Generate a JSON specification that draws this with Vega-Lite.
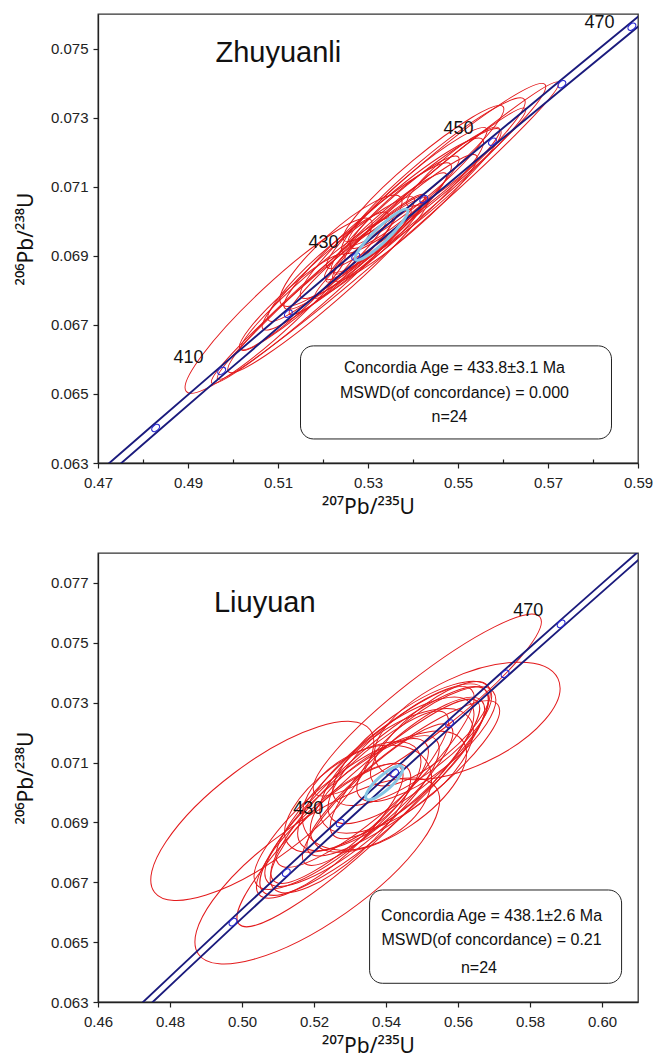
{
  "$schema": "https://vega.github.io/schema/vega-lite/v6.json",
  "padding": {"left": 14, "top": 13, "right": 0, "bottom": 0},
  "background": "white",
  "config": {
    "font": "Liberation Sans",
    "view": {"stroke": "#333333", "strokeWidth": 1.3},
    "axis": {"grid": false, "domainColor": "#222222", "domainWidth": 1.3, "tickColor": "#222222", "tickWidth": 1.2,
      "labelFont": "Liberation Sans", "labelFontSize": 15, "labelColor": "#222222",
      "titleFont": "Noto Sans", "titleFontSize": 21, "titleFontWeight": "normal", "titleColor": "#111111",
      "labelFlush": false, "labelOverlap": false},
    "axisX": {"labelPadding": 7, "titlePadding": 6},
    "axisY": {"labelPadding": 5, "titlePadding": 14}
  },
  "datasets": {
    "conc": [
      {"age": 370, "x": 0.439643, "y": 0.059075, "xl": 0.438303, "xr": 0.440983},
      {"age": 380, "x": 0.453891, "y": 0.060719, "xl": 0.452551, "xr": 0.455231},
      {"age": 390, "x": 0.468279, "y": 0.062366, "xl": 0.466939, "xr": 0.469619},
      {"age": 400, "x": 0.482812, "y": 0.064016, "xl": 0.481472, "xr": 0.484152},
      {"age": 410, "x": 0.497487, "y": 0.065667, "xl": 0.496147, "xr": 0.498827},
      {"age": 420, "x": 0.512308, "y": 0.067322, "xl": 0.510968, "xr": 0.513648},
      {"age": 430, "x": 0.527275, "y": 0.068979, "xl": 0.525935, "xr": 0.528615},
      {"age": 440, "x": 0.542392, "y": 0.070638, "xl": 0.541052, "xr": 0.543732},
      {"age": 450, "x": 0.557656, "y": 0.072300, "xl": 0.556316, "xr": 0.558996},
      {"age": 460, "x": 0.573073, "y": 0.073965, "xl": 0.571733, "xr": 0.574413},
      {"age": 470, "x": 0.588643, "y": 0.075632, "xl": 0.587303, "xr": 0.589983},
      {"age": 480, "x": 0.604366, "y": 0.077302, "xl": 0.603026, "xr": 0.605706},
      {"age": 490, "x": 0.620245, "y": 0.078975, "xl": 0.618905, "xr": 0.621585},
      {"age": 500, "x": 0.636280, "y": 0.080650, "xl": 0.634940, "xr": 0.637620}
    ],
    "ellTop": [
      {"x": 0.51013, "y": 0.067554, "r": 0.0280, "asp": "0.18", "tilt": 43, "kind": "sample"},
      {"x": 0.53445, "y": 0.069726, "r": 0.0502, "asp": "0.07", "tilt": 41, "kind": "sample"},
      {"x": 0.54514, "y": 0.071311, "r": 0.0316, "asp": "0.13", "tilt": 40, "kind": "sample"},
      {"x": 0.54451, "y": 0.071319, "r": 0.0264, "asp": "0.16", "tilt": 40, "kind": "sample"},
      {"x": 0.54233, "y": 0.071383, "r": 0.0231, "asp": "0.16", "tilt": 40, "kind": "sample"},
      {"x": 0.54287, "y": 0.070760, "r": 0.0293, "asp": "0.1", "tilt": 41, "kind": "sample"},
      {"x": 0.54893, "y": 0.071577, "r": 0.0133, "asp": "0.2", "tilt": 40, "kind": "sample"},
      {"x": 0.52398, "y": 0.069145, "r": 0.0178, "asp": "0.25", "tilt": 42, "kind": "sample"},
      {"x": 0.51740, "y": 0.067821, "r": 0.0293, "asp": "0.1", "tilt": 41, "kind": "sample"},
      {"x": 0.52109, "y": 0.068148, "r": 0.0293, "asp": "0.13", "tilt": 41, "kind": "sample"},
      {"x": 0.51858, "y": 0.068180, "r": 0.0222, "asp": "0.13", "tilt": 41, "kind": "sample"},
      {"x": 0.52340, "y": 0.068780, "r": 0.0222, "asp": "0.16", "tilt": 41, "kind": "sample"},
      {"x": 0.52767, "y": 0.069021, "r": 0.0200, "asp": "0.13", "tilt": 41, "kind": "sample"},
      {"x": 0.52993, "y": 0.069570, "r": 0.0244, "asp": "0.16", "tilt": 41, "kind": "sample"},
      {"x": 0.53391, "y": 0.069855, "r": 0.0178, "asp": "0.16", "tilt": 41, "kind": "sample"},
      {"x": 0.53531, "y": 0.070087, "r": 0.0267, "asp": "0.16", "tilt": 41, "kind": "sample"},
      {"x": 0.53818, "y": 0.070096, "r": 0.0211, "asp": "0.16", "tilt": 41, "kind": "sample"},
      {"x": 0.53816, "y": 0.070548, "r": 0.0156, "asp": "0.18", "tilt": 40, "kind": "sample"},
      {"x": 0.52996, "y": 0.069116, "r": 0.0156, "asp": "0.13", "tilt": 41, "kind": "sample"},
      {"x": 0.54071, "y": 0.070603, "r": 0.0244, "asp": "0.16", "tilt": 40, "kind": "sample"},
      {"x": 0.52113, "y": 0.068684, "r": 0.0178, "asp": "0.18", "tilt": 42, "kind": "sample"},
      {"x": 0.53249, "y": 0.069623, "r": 0.0133, "asp": "0.16", "tilt": 41, "kind": "sample"},
      {"x": 0.54100, "y": 0.071009, "r": 0.0200, "asp": "0.16", "tilt": 40, "kind": "sample"},
      {"x": 0.51318, "y": 0.067664, "r": 0.0156, "asp": "0.18", "tilt": 42, "kind": "sample"},
      {"x": 0.53300, "y": 0.069609, "r": 0.0080, "asp": "0.2", "tilt": 44, "kind": "mean"}
    ],
    "ellBot": [
      {"x": 0.50564, "y": 0.069382, "r": 0.0375, "asp": "0.35", "tilt": 37, "kind": "sample"},
      {"x": 0.52092, "y": 0.067377, "r": 0.0403, "asp": "0.35", "tilt": 35, "kind": "sample"},
      {"x": 0.56258, "y": 0.072389, "r": 0.0278, "asp": "0.45", "tilt": 25, "kind": "sample"},
      {"x": 0.55147, "y": 0.072923, "r": 0.0397, "asp": "0.2", "tilt": 38, "kind": "sample"},
      {"x": 0.53231, "y": 0.069315, "r": 0.0453, "asp": "0.2", "tilt": 43, "kind": "sample"},
      {"x": 0.53675, "y": 0.070050, "r": 0.0417, "asp": "0.25", "tilt": 42, "kind": "sample"},
      {"x": 0.53469, "y": 0.069826, "r": 0.0194, "asp": "0.65", "tilt": 30, "kind": "sample"},
      {"x": 0.53995, "y": 0.070621, "r": 0.0306, "asp": "0.35", "tilt": 40, "kind": "sample"},
      {"x": 0.54594, "y": 0.070820, "r": 0.0278, "asp": "0.3", "tilt": 42, "kind": "sample"},
      {"x": 0.53056, "y": 0.069379, "r": 0.0306, "asp": "0.3", "tilt": 40, "kind": "sample"},
      {"x": 0.52736, "y": 0.068808, "r": 0.0250, "asp": "0.35", "tilt": 42, "kind": "sample"},
      {"x": 0.53696, "y": 0.070522, "r": 0.0361, "asp": "0.25", "tilt": 42, "kind": "sample"},
      {"x": 0.54294, "y": 0.070721, "r": 0.0250, "asp": "0.45", "tilt": 36, "kind": "sample"},
      {"x": 0.54614, "y": 0.071292, "r": 0.0278, "asp": "0.35", "tilt": 40, "kind": "sample"},
      {"x": 0.55120, "y": 0.071615, "r": 0.0236, "asp": "0.35", "tilt": 38, "kind": "sample"},
      {"x": 0.52756, "y": 0.069280, "r": 0.0306, "asp": "0.3", "tilt": 40, "kind": "sample"},
      {"x": 0.53768, "y": 0.069926, "r": 0.0278, "asp": "0.25", "tilt": 43, "kind": "sample"},
      {"x": 0.53076, "y": 0.069851, "r": 0.0222, "asp": "0.45", "tilt": 36, "kind": "sample"},
      {"x": 0.54480, "y": 0.070472, "r": 0.0333, "asp": "0.25", "tilt": 38, "kind": "sample"},
      {"x": 0.55233, "y": 0.071962, "r": 0.0208, "asp": "0.35", "tilt": 40, "kind": "sample"},
      {"x": 0.52437, "y": 0.068709, "r": 0.0264, "asp": "0.3", "tilt": 42, "kind": "sample"},
      {"x": 0.54067, "y": 0.070025, "r": 0.0250, "asp": "0.45", "tilt": 34, "kind": "sample"},
      {"x": 0.54728, "y": 0.071639, "r": 0.0264, "asp": "0.35", "tilt": 36, "kind": "sample"},
      {"x": 0.53272, "y": 0.069839, "r": 0.0333, "asp": "0.25", "tilt": 44, "kind": "sample"},
      {"x": 0.53951, "y": 0.070322, "r": 0.0067, "asp": "0.3", "tilt": 42, "kind": "mean"}
    ],
    "textTop": [
      {"x": 0.49011, "y": 0.066043, "label": "410", "kind": "age"},
      {"x": 0.52011, "y": 0.069377, "label": "430", "kind": "age"},
      {"x": 0.55011, "y": 0.072681, "label": "450", "kind": "age"},
      {"x": 0.58144, "y": 0.075725, "label": "470", "kind": "age"},
      {"x": 0.54922, "y": 0.065754, "label": "Concordia  Age = 433.8±3.1 Ma", "kind": "box"},
      {"x": 0.54922, "y": 0.065029, "label": "MSWD(of concordance) = 0.000", "kind": "box"},
      {"x": 0.54811, "y": 0.064333, "label": "n=24", "kind": "box"},
      {"x": 0.49611, "y": 0.074623, "label": "Zhuyuanli", "kind": "title"}
    ],
    "textBot": [
      {"x": 0.51842, "y": 0.069448, "label": "430", "kind": "age"},
      {"x": 0.57953, "y": 0.076064, "label": "470", "kind": "age"},
      {"x": 0.56933, "y": 0.065873, "label": "Concordia  Age = 438.1±2.6 Ma", "kind": "box"},
      {"x": 0.56933, "y": 0.065061, "label": "MSWD(of concordance) = 0.21", "kind": "box"},
      {"x": 0.56583, "y": 0.064146, "label": "n=24", "kind": "box"},
      {"x": 0.49222, "y": 0.07604, "label": "Liuyuan", "kind": "title"}
    ],
    "boxTop": [{"x1": 0.5150, "x2": 0.58411, "y1": 0.066391, "y2": 0.063696}],
    "boxBot": [{"x1": 0.53544, "x2": 0.60544, "y1": 0.066742, "y2": 0.063625}]
  },
  "bounds": "flush",
  "spacing": 90,
  "resolve": {"scale": {"x": "independent", "y": "independent", "size": "independent", "shape": "independent", "angle": "independent"}},
  "vconcat": [
    {
      "width": 540,
      "height": 449,
      "layer": [
        {
          "data": {"name": "ellTop"},
          "transform": [{"filter": "datum.kind == 'sample'"}],
          "mark": {"type": "point", "filled": false, "color": "#e31a1c", "strokeWidth": 1, "opacity": 1, "clip": true},
          "encoding": {
            "x": {"field": "x", "type": "quantitative", "scale": {"domain": [0.47, 0.59], "nice": false, "zero": false},
              "axis": {"values": [0.47, 0.48, 0.49, 0.5, 0.51, 0.52, 0.53, 0.54, 0.55, 0.56, 0.57, 0.58, 0.59], "format": ".2f",
                "labelExpr": "round(datum.value*100) % 2 == 1 ? datum.label : ''",
                "tickSize": {"condition": {"test": "round(datum.value*100) % 2 == 1", "value": 5}, "value": -4},
                "title": "²⁰⁷Pb/²³⁵U"}},
            "y": {"field": "y", "type": "quantitative", "scale": {"domain": [0.063, 0.076], "nice": false, "zero": false},
              "axis": {"values": [0.063, 0.064, 0.065, 0.066, 0.067, 0.068, 0.069, 0.07, 0.071, 0.072, 0.073, 0.074, 0.075, 0.076], "format": ".3f",
                "labelExpr": "round(datum.value*1000) % 2 == 1 ? datum.label : ''",
                "tickSize": {"condition": {"test": "round(datum.value*1000) % 2 == 1", "value": 5}, "value": -4},
                "title": "²⁰⁶Pb/²³⁸U"}},
            "size": {"field": "r", "type": "quantitative", "scale": {"type": "pow", "exponent": 2, "domain": [0, 0.05], "range": [0, 202500]}, "legend": null},
            "shape": {"field": "asp", "type": "nominal", "legend": null, "scale": {
              "domain": ["0.07", "0.1", "0.13", "0.16", "0.18", "0.2", "0.25", "0.3", "0.35", "0.45", "0.65"],
              "range": ["M -1 0 A 1 0.07 0 1 1 1 0 A 1 0.07 0 1 1 -1 0 Z", "M -1 0 A 1 0.1 0 1 1 1 0 A 1 0.1 0 1 1 -1 0 Z", "M -1 0 A 1 0.13 0 1 1 1 0 A 1 0.13 0 1 1 -1 0 Z", "M -1 0 A 1 0.16 0 1 1 1 0 A 1 0.16 0 1 1 -1 0 Z", "M -1 0 A 1 0.18 0 1 1 1 0 A 1 0.18 0 1 1 -1 0 Z", "M -1 0 A 1 0.2 0 1 1 1 0 A 1 0.2 0 1 1 -1 0 Z", "M -1 0 A 1 0.25 0 1 1 1 0 A 1 0.25 0 1 1 -1 0 Z", "M -1 0 A 1 0.3 0 1 1 1 0 A 1 0.3 0 1 1 -1 0 Z", "M -1 0 A 1 0.35 0 1 1 1 0 A 1 0.35 0 1 1 -1 0 Z", "M -1 0 A 1 0.45 0 1 1 1 0 A 1 0.45 0 1 1 -1 0 Z", "M -1 0 A 1 0.65 0 1 1 1 0 A 1 0.65 0 1 1 -1 0 Z"]}},
            "angle": {"field": "tilt", "type": "quantitative", "scale": {"domain": [0, 90], "range": [0, -90]}, "legend": null}
          }
        },
        {
          "data": {"name": "conc"},
          "mark": {"type": "line", "color": "#1b1b7d", "strokeWidth": 1.9, "clip": true},
          "encoding": {
            "x": {"field": "xl", "type": "quantitative", "scale": {"domain": [0.47, 0.59], "nice": false, "zero": false}},
            "y": {"field": "y", "type": "quantitative", "scale": {"domain": [0.063, 0.076], "nice": false, "zero": false}}
          }
        },
        {
          "data": {"name": "conc"},
          "mark": {"type": "line", "color": "#1b1b7d", "strokeWidth": 1.9, "clip": true},
          "encoding": {
            "x": {"field": "xr", "type": "quantitative", "scale": {"domain": [0.47, 0.59], "nice": false, "zero": false}},
            "y": {"field": "y", "type": "quantitative", "scale": {"domain": [0.063, 0.076], "nice": false, "zero": false}}
          }
        },
        {
          "data": {"name": "conc"},
          "transform": [{"filter": "datum.age >= 400 && datum.age <= 470"}],
          "mark": {"type": "point", "filled": false, "color": "#2a2ad0", "strokeWidth": 1.2, "opacity": 1, "size": 81, "angle": -40, "shape": "M -1 0 A 1 0.65 0 1 1 1 0 A 1 0.65 0 1 1 -1 0 Z", "clip": true},
          "encoding": {
            "x": {"field": "x", "type": "quantitative", "scale": {"domain": [0.47, 0.59], "nice": false, "zero": false}},
            "y": {"field": "y", "type": "quantitative", "scale": {"domain": [0.063, 0.076], "nice": false, "zero": false}}
          }
        },
        {
          "data": {"name": "ellTop"},
          "transform": [{"filter": "datum.kind == 'mean'"}],
          "mark": {"type": "point", "filled": false, "color": "#86c5e3", "strokeWidth": 3, "opacity": 1, "clip": true},
          "encoding": {
            "x": {"field": "x", "type": "quantitative", "scale": {"domain": [0.47, 0.59], "nice": false, "zero": false}},
            "y": {"field": "y", "type": "quantitative", "scale": {"domain": [0.063, 0.076], "nice": false, "zero": false}},
            "size": {"field": "r", "type": "quantitative", "scale": {"type": "pow", "exponent": 2, "domain": [0, 0.05], "range": [0, 202500]}, "legend": null},
            "shape": {"field": "asp", "type": "nominal", "legend": null},
            "angle": {"field": "tilt", "type": "quantitative", "scale": {"domain": [0, 90], "range": [0, -90]}, "legend": null}
          }
        },
        {
          "data": {"name": "boxTop"},
          "mark": {"type": "rect", "fill": "white", "stroke": "#222222", "strokeWidth": 1, "cornerRadius": 13},
          "encoding": {
            "x": {"field": "x1", "type": "quantitative", "scale": {"domain": [0.47, 0.59], "nice": false, "zero": false}},
            "x2": {"field": "x2"},
            "y": {"field": "y1", "type": "quantitative", "scale": {"domain": [0.063, 0.076], "nice": false, "zero": false}},
            "y2": {"field": "y2"}
          }
        },
        {
          "data": {"name": "textTop"},
          "transform": [{"filter": "datum.kind == 'box'"}],
          "mark": {"type": "text", "font": "Liberation Sans", "fontSize": 16, "color": "#111111", "align": "center", "baseline": "middle"},
          "encoding": {
            "x": {"field": "x", "type": "quantitative", "scale": {"domain": [0.47, 0.59], "nice": false, "zero": false}},
            "y": {"field": "y", "type": "quantitative", "scale": {"domain": [0.063, 0.076], "nice": false, "zero": false}},
            "text": {"field": "label"}
          }
        },
        {
          "data": {"name": "textTop"},
          "transform": [{"filter": "datum.kind == 'age'"}],
          "mark": {"type": "text", "font": "Liberation Sans", "fontSize": 18, "color": "#111111", "align": "center", "baseline": "middle"},
          "encoding": {
            "x": {"field": "x", "type": "quantitative", "scale": {"domain": [0.47, 0.59], "nice": false, "zero": false}},
            "y": {"field": "y", "type": "quantitative", "scale": {"domain": [0.063, 0.076], "nice": false, "zero": false}},
            "text": {"field": "label"}
          }
        },
        {
          "data": {"name": "textTop"},
          "transform": [{"filter": "datum.kind == 'title'"}],
          "mark": {"type": "text", "font": "Liberation Sans", "fontSize": 29, "color": "#111111", "align": "left", "baseline": "alphabetic"},
          "encoding": {
            "x": {"field": "x", "type": "quantitative", "scale": {"domain": [0.47, 0.59], "nice": false, "zero": false}},
            "y": {"field": "y", "type": "quantitative", "scale": {"domain": [0.063, 0.076], "nice": false, "zero": false}},
            "text": {"field": "label"}
          }
        }
      ]
    },
    {
      "width": 540,
      "height": 449,
      "layer": [
        {
          "data": {"name": "ellBot"},
          "transform": [{"filter": "datum.kind == 'sample'"}],
          "mark": {"type": "point", "filled": false, "color": "#e31a1c", "strokeWidth": 1, "opacity": 1, "clip": true},
          "encoding": {
            "x": {"field": "x", "type": "quantitative", "scale": {"domain": [0.46, 0.61], "nice": false, "zero": false},
              "axis": {"values": [0.46, 0.47, 0.48, 0.49, 0.5, 0.51, 0.52, 0.53, 0.54, 0.55, 0.56, 0.57, 0.58, 0.59, 0.6, 0.61], "format": ".2f",
                "labelExpr": "round(datum.value*100) % 2 == 0 ? datum.label : ''",
                "tickSize": {"condition": {"test": "round(datum.value*100) % 2 == 0", "value": 5}, "value": -4},
                "title": "²⁰⁷Pb/²³⁵U"}},
            "y": {"field": "y", "type": "quantitative", "scale": {"domain": [0.063, 0.078], "nice": false, "zero": false},
              "axis": {"values": [0.063, 0.064, 0.065, 0.066, 0.067, 0.068, 0.069, 0.07, 0.071, 0.072, 0.073, 0.074, 0.075, 0.076, 0.077, 0.078], "format": ".3f",
                "labelExpr": "round(datum.value*1000) % 2 == 1 ? datum.label : ''",
                "tickSize": {"condition": {"test": "round(datum.value*1000) % 2 == 1", "value": 5}, "value": -4},
                "title": "²⁰⁶Pb/²³⁸U"}},
            "size": {"field": "r", "type": "quantitative", "scale": {"type": "pow", "exponent": 2, "domain": [0, 0.05], "range": [0, 129600]}, "legend": null},
            "shape": {"field": "asp", "type": "nominal", "legend": null, "scale": {
              "domain": ["0.07", "0.1", "0.13", "0.16", "0.18", "0.2", "0.25", "0.3", "0.35", "0.45", "0.65"],
              "range": ["M -1 0 A 1 0.07 0 1 1 1 0 A 1 0.07 0 1 1 -1 0 Z", "M -1 0 A 1 0.1 0 1 1 1 0 A 1 0.1 0 1 1 -1 0 Z", "M -1 0 A 1 0.13 0 1 1 1 0 A 1 0.13 0 1 1 -1 0 Z", "M -1 0 A 1 0.16 0 1 1 1 0 A 1 0.16 0 1 1 -1 0 Z", "M -1 0 A 1 0.18 0 1 1 1 0 A 1 0.18 0 1 1 -1 0 Z", "M -1 0 A 1 0.2 0 1 1 1 0 A 1 0.2 0 1 1 -1 0 Z", "M -1 0 A 1 0.25 0 1 1 1 0 A 1 0.25 0 1 1 -1 0 Z", "M -1 0 A 1 0.3 0 1 1 1 0 A 1 0.3 0 1 1 -1 0 Z", "M -1 0 A 1 0.35 0 1 1 1 0 A 1 0.35 0 1 1 -1 0 Z", "M -1 0 A 1 0.45 0 1 1 1 0 A 1 0.45 0 1 1 -1 0 Z", "M -1 0 A 1 0.65 0 1 1 1 0 A 1 0.65 0 1 1 -1 0 Z"]}},
            "angle": {"field": "tilt", "type": "quantitative", "scale": {"domain": [0, 90], "range": [0, -90]}, "legend": null}
          }
        },
        {
          "data": {"name": "conc"},
          "mark": {"type": "line", "color": "#1b1b7d", "strokeWidth": 1.9, "clip": true},
          "encoding": {
            "x": {"field": "xl", "type": "quantitative", "scale": {"domain": [0.46, 0.61], "nice": false, "zero": false}},
            "y": {"field": "y", "type": "quantitative", "scale": {"domain": [0.063, 0.078], "nice": false, "zero": false}}
          }
        },
        {
          "data": {"name": "conc"},
          "mark": {"type": "line", "color": "#1b1b7d", "strokeWidth": 1.9, "clip": true},
          "encoding": {
            "x": {"field": "xr", "type": "quantitative", "scale": {"domain": [0.46, 0.61], "nice": false, "zero": false}},
            "y": {"field": "y", "type": "quantitative", "scale": {"domain": [0.063, 0.078], "nice": false, "zero": false}}
          }
        },
        {
          "data": {"name": "conc"},
          "transform": [{"filter": "datum.age >= 410 && datum.age <= 470"}],
          "mark": {"type": "point", "filled": false, "color": "#2a2ad0", "strokeWidth": 1.2, "opacity": 1, "size": 81, "angle": -42, "shape": "M -1 0 A 1 0.65 0 1 1 1 0 A 1 0.65 0 1 1 -1 0 Z", "clip": true},
          "encoding": {
            "x": {"field": "x", "type": "quantitative", "scale": {"domain": [0.46, 0.61], "nice": false, "zero": false}},
            "y": {"field": "y", "type": "quantitative", "scale": {"domain": [0.063, 0.078], "nice": false, "zero": false}}
          }
        },
        {
          "data": {"name": "ellBot"},
          "transform": [{"filter": "datum.kind == 'mean'"}],
          "mark": {"type": "point", "filled": false, "color": "#86c5e3", "strokeWidth": 3, "opacity": 1, "clip": true},
          "encoding": {
            "x": {"field": "x", "type": "quantitative", "scale": {"domain": [0.46, 0.61], "nice": false, "zero": false}},
            "y": {"field": "y", "type": "quantitative", "scale": {"domain": [0.063, 0.078], "nice": false, "zero": false}},
            "size": {"field": "r", "type": "quantitative", "scale": {"type": "pow", "exponent": 2, "domain": [0, 0.05], "range": [0, 129600]}, "legend": null},
            "shape": {"field": "asp", "type": "nominal", "legend": null},
            "angle": {"field": "tilt", "type": "quantitative", "scale": {"domain": [0, 90], "range": [0, -90]}, "legend": null}
          }
        },
        {
          "data": {"name": "boxBot"},
          "mark": {"type": "rect", "fill": "white", "stroke": "#222222", "strokeWidth": 1, "cornerRadius": 13},
          "encoding": {
            "x": {"field": "x1", "type": "quantitative", "scale": {"domain": [0.46, 0.61], "nice": false, "zero": false}},
            "x2": {"field": "x2"},
            "y": {"field": "y1", "type": "quantitative", "scale": {"domain": [0.063, 0.078], "nice": false, "zero": false}},
            "y2": {"field": "y2"}
          }
        },
        {
          "data": {"name": "textBot"},
          "transform": [{"filter": "datum.kind == 'box'"}],
          "mark": {"type": "text", "font": "Liberation Sans", "fontSize": 16, "color": "#111111", "align": "center", "baseline": "middle"},
          "encoding": {
            "x": {"field": "x", "type": "quantitative", "scale": {"domain": [0.46, 0.61], "nice": false, "zero": false}},
            "y": {"field": "y", "type": "quantitative", "scale": {"domain": [0.063, 0.078], "nice": false, "zero": false}},
            "text": {"field": "label"}
          }
        },
        {
          "data": {"name": "textBot"},
          "transform": [{"filter": "datum.kind == 'age'"}],
          "mark": {"type": "text", "font": "Liberation Sans", "fontSize": 18, "color": "#111111", "align": "center", "baseline": "middle"},
          "encoding": {
            "x": {"field": "x", "type": "quantitative", "scale": {"domain": [0.46, 0.61], "nice": false, "zero": false}},
            "y": {"field": "y", "type": "quantitative", "scale": {"domain": [0.063, 0.078], "nice": false, "zero": false}},
            "text": {"field": "label"}
          }
        },
        {
          "data": {"name": "textBot"},
          "transform": [{"filter": "datum.kind == 'title'"}],
          "mark": {"type": "text", "font": "Liberation Sans", "fontSize": 29, "color": "#111111", "align": "left", "baseline": "alphabetic"},
          "encoding": {
            "x": {"field": "x", "type": "quantitative", "scale": {"domain": [0.46, 0.61], "nice": false, "zero": false}},
            "y": {"field": "y", "type": "quantitative", "scale": {"domain": [0.063, 0.078], "nice": false, "zero": false}},
            "text": {"field": "label"}
          }
        }
      ]
    }
  ]
}
